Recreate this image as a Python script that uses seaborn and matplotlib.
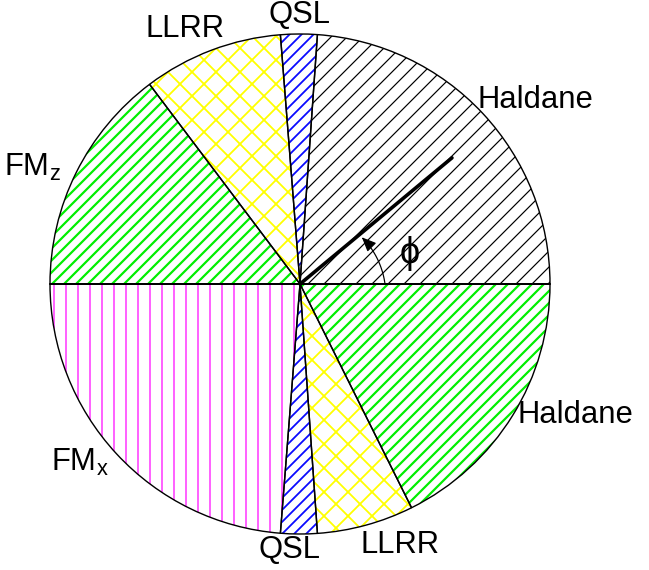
import seaborn as sns
import matplotlib.pyplot as plt
import numpy as np
from matplotlib.patches import FancyArrowPatch
from matplotlib.path import Path

# phase sectors, counter-clockwise from phi = 0 (degrees)
phases = ["Haldane", "QSL", "LLRR", r"FM$_\mathrm{z}$", r"FM$_\mathrm{x}$", "QSL", "LLRR", "Haldane"]
widths = [86, 8.5, 32.5, 53, 85.5, 8.5, 22.5, 63.5]
hatch_colors = ["black", "#0a0aff", "#ffff00", "#00ee00", "#ff22ff", "#0a0aff", "#ffff00", "#00ee00"]
hatches = ["///", "////", "xx", "////", "||", "////", "xx", "////"]
hatch_lw = [0.6, 0.9, 0.9, 1.1, 0.7, 0.9, 0.9, 1.1]

# label placement (in units of radius)
label_xy = [(0.94, 0.735), (0.0, 1.075), (-0.46, 1.02), (-1.07, 0.465),
            (-0.88, -0.715), (-0.04, -1.065), (0.40, -1.045), (1.10, -0.525)]
phi_dir = 39.7

DPI = 144
sns.set_theme(style="white")
plt.rcParams["font.family"] = ["Liberation Sans", "DejaVu Sans"]
plt.rcParams["mathtext.fontset"] = "custom"
plt.rcParams["mathtext.rm"] = "Liberation Sans"

fig = plt.figure(figsize=(649 / DPI, 570 / DPI), dpi=DPI)
ax = fig.add_axes([0, 0, 1, 1])

wedges, _ = ax.pie(widths, startangle=0, counterclock=True, radius=1,
                   wedgeprops=dict(fill=False, linewidth=0))
for w, h, c, lw in zip(wedges, hatches, hatch_colors, hatch_lw):
    w.set_hatch(h)
    w.set_edgecolor(c)
    if hasattr(w, "set_hatch_linewidth"):
        w.set_hatch_linewidth(lw)

# black outlines on top
ax.pie(widths, startangle=0, counterclock=True, radius=1,
       wedgeprops=dict(fill=False, edgecolor="black", linewidth=0.7))
ax.plot([-1, 1], [0, 0], color="black", lw=1.0)

for name, (x, y) in zip(phases, label_xy):
    ax.text(x, y, name, fontsize=15.5, ha="center", va="center", color="black")

# direction arrow and angle phi
t = np.deg2rad(phi_dir)
ax.plot([0, 0.79 * np.cos(t)], [0, 0.79 * np.sin(t)], color="black", lw=1.8,
        solid_capstyle="round")
arc = np.deg2rad(np.linspace(0, 37, 40))
rr = np.linspace(0.34, 0.31, 40)
verts = np.column_stack([rr * np.cos(arc), rr * np.sin(arc)])
ax.add_patch(FancyArrowPatch(path=Path(verts), arrowstyle="-|>,head_length=6,head_width=2.6",
                             color="black", lw=0.6, shrinkA=0, shrinkB=0))
ax.text(0.44, 0.12, "ϕ", fontsize=18, ha="center", va="center", color="black")

ax.set_xlim(-1.2, 1.396)
ax.set_ylim(-1.144, 1.136)
ax.set_aspect("equal")
ax.axis("off")

fig.savefig("out.png", dpi=DPI)
